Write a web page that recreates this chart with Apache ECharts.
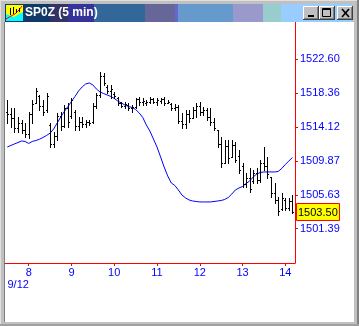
<!DOCTYPE html>
<html><head><meta charset="utf-8">
<script src="https://cdn.jsdelivr.net/npm/echarts@6/dist/echarts.min.js"></script>
<style>html,body{margin:0;padding:0;background:#c0c0c0}#c{width:359px;height:326px}</style>
</head><body><div id="c"></div>
<script>
const windowTitle = 'SP0Z (5 min)';
const sessionDate = '9/12';
const firstBarMinutes = 450; // 7:30
const barMinutes = 5;
const hourTicks = [8, 9, 10, 11, 12, 13, 14];
const priceTicks = [1501.39, 1505.63, 1509.87, 1514.12, 1518.36, 1522.60];
const lastPrice = 1503.50;

const opens = [
1516.0,1515.8,1515.2,1514.0,1514.6,1513.8,1513.3,1515.7,1517.2,1518.0,
1516.8,1516.2,1514.4,1512.0,1513.0,1515.5,1514.2,1516.5,1515.5,1516.0,
1514.3,1514.8,1514.5,1514.8,1514.8,1516.8,1518.1,1520.5,1519.2,1518.6,
1518.3,1517.8,1517.2,1516.8,1516.9,1516.5,1516.6,1517.6,1517.3,1517.2,
1517.3,1517.6,1517.3,1517.4,1517.6,1517.2,1517.0,1516.5,1516.6,1514.9,
1514.5,1515.8,1515.3,1516.2,1516.8,1516.0,1516.3,1515.4,1514.7,1513.8,
1512.0,1509.6,1511.8,1510.4,1511.9,1510.5,1509.2,1507.0,1507.8,1507.4,
1508.4,1507.5,1509.6,1509.2,1507.9,1505.8,1505.0,1503.8,1505.0,1504.0,
1504.8];
const highs = [
1517.5,1516.5,1516.5,1515.4,1515.0,1514.6,1516.0,1517.5,1519.0,1518.2,
1517.5,1518.4,1514.6,1513.5,1515.9,1516.0,1516.9,1517.1,1517.8,1516.3,
1515.4,1515.4,1515.0,1515.0,1517.1,1518.4,1521.0,1520.9,1519.4,1519.4,
1518.5,1517.9,1517.3,1517.3,1517.1,1516.9,1517.8,1517.9,1517.8,1517.5,
1517.9,1517.8,1517.8,1517.8,1517.9,1517.5,1517.1,1517.0,1516.9,1515.9,
1516.3,1516.3,1516.6,1517.1,1517.3,1516.6,1516.5,1516.5,1515.2,1513.8,
1512.9,1512.5,1512.5,1512.5,1512.3,1511.3,1509.6,1508.4,1509.0,1508.8,
1509.0,1510.0,1511.6,1510.4,1507.9,1507.1,1505.4,1505.9,1505.2,1505.2,
1505.6];
const lows = [
1514.6,1514.1,1513.5,1513.5,1513.4,1512.9,1512.8,1514.6,1517.1,1516.3,
1515.6,1516.0,1511.6,1511.6,1512.5,1513.8,1514.1,1514.1,1515.3,1513.8,
1513.8,1514.1,1514.1,1514.4,1514.6,1516.5,1517.9,1519.4,1518.4,1517.8,
1517.8,1516.9,1516.6,1516.5,1516.3,1516.0,1516.5,1516.9,1516.9,1516.9,
1517.1,1517.1,1516.9,1517.1,1516.9,1517.1,1516.3,1516.2,1514.6,1514.0,
1514.0,1514.8,1515.3,1515.4,1515.6,1515.6,1515.0,1514.4,1513.8,1511.6,
1509.1,1509.6,1509.6,1510.4,1509.7,1508.4,1506.6,1506.6,1506.0,1507.1,
1507.1,1507.2,1508.8,1507.7,1505.4,1504.6,1503.1,1503.7,1503.7,1503.7,
1503.4];
const closes = [
1515.8,1515.2,1514.0,1514.6,1513.8,1513.3,1515.7,1517.0,1518.6,1516.8,
1516.0,1518.0,1512.0,1513.0,1515.5,1514.2,1516.5,1514.8,1517.5,1514.3,
1514.8,1514.5,1514.8,1514.6,1516.8,1518.1,1520.5,1519.6,1518.6,1518.9,
1518.0,1517.2,1516.8,1517.0,1516.5,1516.6,1517.6,1517.3,1517.4,1517.3,
1517.7,1517.3,1517.5,1517.6,1517.2,1517.3,1516.5,1516.7,1514.9,1514.5,
1515.8,1515.2,1516.2,1516.8,1516.0,1516.3,1515.4,1514.7,1514.0,1512.0,
1509.6,1511.8,1510.2,1511.9,1510.0,1508.8,1507.0,1507.8,1506.4,1508.4,
1507.5,1509.6,1509.2,1508.2,1505.8,1505.0,1503.6,1505.2,1504.0,1504.8,
1503.5];
const maValues = [
1511.63,1511.82,1512.01,1512.19,1512.38,1512.32,1512.07,1512.32,1512.44,1512.59,
1512.82,1513.07,1513.36,1513.88,1514.64,1515.39,1516.08,1516.70,1517.33,1517.96,
1518.65,1519.15,1519.53,1519.65,1519.40,1518.90,1518.52,1518.33,1518.15,1517.96,
1517.71,1517.39,1517.14,1516.89,1516.70,1516.58,1516.33,1515.89,1515.33,1514.39,
1513.63,1512.63,1511.63,1510.38,1509.12,1508.00,1507.12,1506.80,1506.24,1505.61,
1505.24,1504.99,1504.86,1504.80,1504.74,1504.74,1504.74,1504.74,1504.80,1504.86,
1504.92,1505.05,1505.30,1505.74,1506.24,1506.49,1506.68,1507.06,1507.37,1507.87,
1508.25,1508.43,1508.50,1508.50,1508.50,1508.50,1508.56,1508.93,1509.44,1509.87,
1510.31];

const times = opens.map((_, i) => (firstBarMinutes + i * barMinutes) / 60);
const ohlc = times.map((t, i) => [t, opens[i], highs[i], lows[i], closes[i]]);
const maData = times.map((t, i) => [t, maValues[i]]);

function renderBar(params, api) {
  const t = api.value(0);
  const pO = api.coord([t, api.value(1)]);
  const pH = api.coord([t, api.value(2)]);
  const pL = api.coord([t, api.value(3)]);
  const pC = api.coord([t, api.value(4)]);
  const xi = Math.round(pH[0]);
  const x = xi + 0.5;
  const yo = Math.round(pO[1]) + 0.5, yc = Math.round(pC[1]) + 0.5;
  const style = { stroke: '#000', lineWidth: 1 };
  return { type: 'group', children: [
    { type: 'line', shape: { x1: x, y1: Math.round(pH[1]), x2: x, y2: Math.round(pL[1]) + 1 }, style },
    { type: 'line', shape: { x1: xi - 1, y1: yo, x2: xi, y2: yo }, style },
    { type: 'line', shape: { x1: xi + 1, y1: yc, x2: xi + 2, y2: yc }, style }
  ]};
}

// last price tag drawn at the price scale through the axis coordinate system
function renderTag(params, api) {
  const p = api.coord([api.value(0), api.value(1)]);
  const gridRight = params.coordSys.x + params.coordSys.width;
  const yy = Math.round(p[1]);
  return { type: 'group', children: [
    { type: 'rect', shape: { x: gridRight + 1.5, y: yy - 8.5, width: 43, height: 17 },
      style: { fill: '#ffff00', stroke: '#ff0000', lineWidth: 1 } },
    { type: 'text', x: gridRight + 3, y: yy + 0.5,
      style: { text: api.value(1).toFixed(2), fill: '#000', font: '11px Liberation Sans, Arial, sans-serif', textVerticalAlign: 'middle' } }
  ]};
}

// window chrome
const FONT = 'Liberation Sans, Arial, sans-serif';
const titleSegs = [
  [5, 50, '#0f3a68'], [50, 68, '#333366'], [68, 94, '#333399'], [94, 145, '#336699'],
  [145, 175, '#666699'], [175, 178, '#6666cc'], [178, 233, '#6699cc'], [233, 263, '#9999cc'],
  [263, 281, '#99cccc'], [281, 353, '#99ccff']
];
const chrome = [];
chrome.push({ type: 'rect', z: -10, shape: { x: 0, y: 0, width: 359, height: 326 }, style: { fill: '#c0c0c0' } });
chrome.push({ type: 'rect', z: -9, shape: { x: 0, y: 0, width: 1, height: 326 }, style: { fill: '#e0e0e0' } });
chrome.push({ type: 'rect', z: -9, shape: { x: 0, y: 0, width: 359, height: 1 }, style: { fill: '#e0e0e0' } });
chrome.push({ type: 'rect', z: -9, shape: { x: 357, y: 0, width: 2, height: 326 }, style: { fill: '#808080' } });
chrome.push({ type: 'rect', z: -9, shape: { x: 0, y: 324, width: 359, height: 2 }, style: { fill: '#a0a0a0' } });
chrome.push({ type: 'rect', z: -9, shape: { x: 4, y: 22, width: 1, height: 300 }, style: { fill: '#808080' } });
chrome.push({ type: 'rect', z: -8, shape: { x: 5, y: 22, width: 349, height: 300 }, style: { fill: '#ffffff' } });
titleSegs.forEach(s => chrome.push({ type: 'rect', z: 100, shape: { x: s[0], y: 4, width: s[1] - s[0], height: 18 }, style: { fill: s[2] } }));
// icon
chrome.push({ type: 'rect', z: 101, shape: { x: 6, y: 5, width: 17, height: 16 }, style: { fill: '#ffff00' } });
chrome.push({ type: 'polygon', z: 101, shape: { points: [[6, 14], [6, 21], [23, 21], [23, 12], [14, 17]] }, style: { fill: '#00ffff' } });
chrome.push({ type: 'polyline', z: 102, shape: { points: [[6, 19], [11, 16], [15, 14], [19, 10], [22, 6]] }, style: { stroke: '#ff0000', lineWidth: 1, fill: null } });
[[10, 8, 15], [13, 7, 14], [16, 9, 13], [19, 8, 12]].forEach(b => chrome.push({ type: 'line', z: 102, shape: { x1: b[0] + 0.5, y1: b[1], x2: b[0] + 0.5, y2: b[2] }, style: { stroke: '#000', lineWidth: 1 } }));
chrome.push({ type: 'text', z: 102, x: 25, y: 13, style: { text: windowTitle, fill: '#ffffff', font: 'bold 12px ' + FONT, textVerticalAlign: 'middle' } });
// buttons
[[303, 16], [319, 16], [337, 16]].forEach(b => {
  chrome.push({ type: 'rect', z: 101, shape: { x: b[0], y: 6, width: b[1], height: 14 }, style: { fill: '#404040' } });
  chrome.push({ type: 'rect', z: 102, shape: { x: b[0], y: 6, width: b[1] - 1, height: 13 }, style: { fill: '#ffffff' } });
  chrome.push({ type: 'rect', z: 103, shape: { x: b[0] + 1, y: 7, width: b[1] - 2, height: 12 }, style: { fill: '#808080' } });
  chrome.push({ type: 'rect', z: 104, shape: { x: b[0] + 1, y: 7, width: b[1] - 3, height: 11 }, style: { fill: '#c0c0c0' } });
});
chrome.push({ type: 'rect', z: 105, shape: { x: 308, y: 15, width: 6, height: 2 }, style: { fill: '#000' } });
chrome.push({ type: 'rect', z: 105, shape: { x: 322.5, y: 8.5, width: 8, height: 8 }, style: { stroke: '#000', lineWidth: 1, fill: null } });
chrome.push({ type: 'rect', z: 105, shape: { x: 322, y: 9, width: 9, height: 1 }, style: { fill: '#000' } });
chrome.push({ type: 'line', z: 105, shape: { x1: 342, y1: 9, x2: 349, y2: 17 }, style: { stroke: '#000', lineWidth: 1.6 } });
chrome.push({ type: 'line', z: 105, shape: { x1: 349, y1: 9, x2: 342, y2: 17 }, style: { stroke: '#000', lineWidth: 1.6 } });

const chart = echarts.init(document.getElementById('c'), null, { renderer: 'canvas' });
chart.setOption({
  animation: false,
  backgroundColor: '#c0c0c0',
  graphic: { elements: chrome },
  grid: { left: 5, right: 64, top: 22, bottom: 63, containLabel: false },
  xAxis: {
    type: 'value', min: 7.4459, max: 14.2268,
    axisLine: { show: true, lineStyle: { color: '#ff0000', width: 1 } },
    axisTick: { show: true, length: 3, customValues: hourTicks, lineStyle: { color: '#ff0000' } },
    splitLine: { show: false },
    axisLabel: {
      customValues: hourTicks, margin: 4, color: '#0000ff', fontSize: 11, fontFamily: FONT,
      formatter: v => v === hourTicks[0] ? '{h|' + v + '}\n{d|' + sessionDate + '}' : '{h|' + v + '}',
      rich: {
        h: { color: '#0000ff', fontSize: 11, fontFamily: FONT, lineHeight: 12, align: 'center' },
        d: { color: '#0000ff', fontSize: 11, fontFamily: FONT, lineHeight: 12, align: 'left', padding: [0, 21, 0, 0] }
      }
    }
  },
  yAxis: {
    type: 'value', position: 'right', min: 1497.09, max: 1527.29,
    axisLine: { show: true, lineStyle: { color: '#ff0000', width: 1 } },
    axisTick: { show: true, length: 3, customValues: priceTicks, lineStyle: { color: '#ff0000' } },
    splitLine: { show: false },
    axisLabel: { customValues: priceTicks, margin: 5, color: '#0000ff', fontSize: 11, fontFamily: FONT, formatter: v => v.toFixed(2) }
  },
  series: [
    { type: 'custom', renderItem: renderBar, data: ohlc, encode: { x: 0, y: [1, 2, 3, 4] }, z: 3, clip: true },
    { type: 'line', data: maData, showSymbol: false, symbol: 'none', smooth: false, z: 2,
      lineStyle: { color: '#0000ff', width: 1 } },
    { type: 'custom', renderItem: renderTag, data: [[times[times.length - 1], lastPrice]],
      encode: { x: 0, y: 1 }, z: 10, clip: false, silent: true }
  ]
});
</script></body></html>
